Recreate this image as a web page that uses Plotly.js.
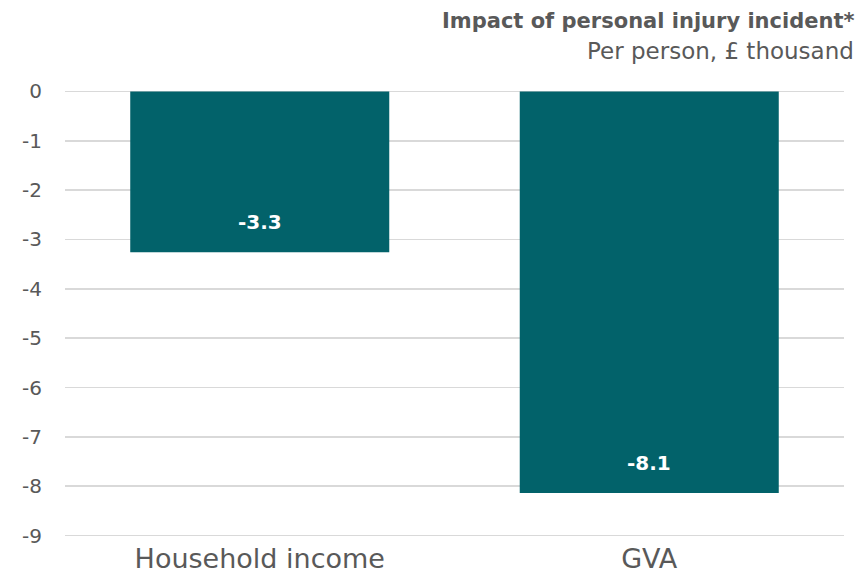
<!DOCTYPE html>
<html>
<head>
<meta charset="utf-8">
<script src="https://cdn.plot.ly/plotly-3.0.1.min.js"></script>
<style>html,body{margin:0;padding:0;background:#fff;}#chart{width:868px;height:578px;}</style>
</head>
<body>
<div id="chart"></div>
<script>
const categories = ["Household income", "GVA"];
const values = [-3.26, -8.14];
const labels = ["-3.3", "-8.1"];
const tickVals = [0, -1, -2, -3, -4, -5, -6, -7, -8, -9];
const tickText = ["0", "-1", "-2", "-3", "-4", "-5", "-6", "-7", "-8", "-9"];
const titleText = "Impact of personal injury incident*";
const subtitleText = "Per person, £ thousand";

const FONT = "DejaVu Sans, sans-serif";
const GREY = "#595959";

const trace = {
  type: "bar",
  x: categories,
  y: values,
  marker: {color: "#02626A"},
  width: 0.665,
  hoverinfo: "skip"
};

const annotations = categories.map((c, i) => ({
  x: c, y: values[i], xref: "x", yref: "y",
  text: "<b>" + labels[i] + "</b>",
  showarrow: false, yshift: 30, yanchor: "middle",
  font: {family: FONT, size: 20, color: "#ffffff"}
}));

annotations.push({
  xref: "paper", yref: "paper", x: 1.015, y: 1.155,
  xanchor: "right", yanchor: "middle", showarrow: false,
  text: "<b>" + titleText + "</b>",
  font: {family: FONT, size: 21, color: GREY}
});
annotations.push({
  xref: "paper", yref: "paper", x: 1.015, y: 1.088,
  xanchor: "right", yanchor: "middle", showarrow: false,
  text: subtitleText,
  font: {family: FONT, size: 23, color: GREY}
});

const layout = {
  width: 868, height: 578,
  margin: {l: 65, r: 24, t: 90, b: 41},
  paper_bgcolor: "#ffffff", plot_bgcolor: "#ffffff",
  showlegend: false,
  bargap: 0.335,
  xaxis: {
    type: "category",
    range: [-0.5, 1.5],
    showgrid: false, zeroline: false, showline: false, ticks: "",
    ticklabelstandoff: 3,
    tickfont: {family: FONT, size: 27, color: GREY}
  },
  yaxis: {
    range: [-9.03, 0.03],
    tickvals: tickVals, ticktext: tickText,
    showgrid: true, gridcolor: "#d9d9d9", gridwidth: 1.5,
    zeroline: false, showline: false, ticks: "",
    ticklabelstandoff: 22,
    tickfont: {family: FONT, size: 20, color: GREY}
  },
  annotations: annotations
};

Plotly.newPlot("chart", [trace], layout, {displayModeBar: false, staticPlot: true});
</script>
</body>
</html>
